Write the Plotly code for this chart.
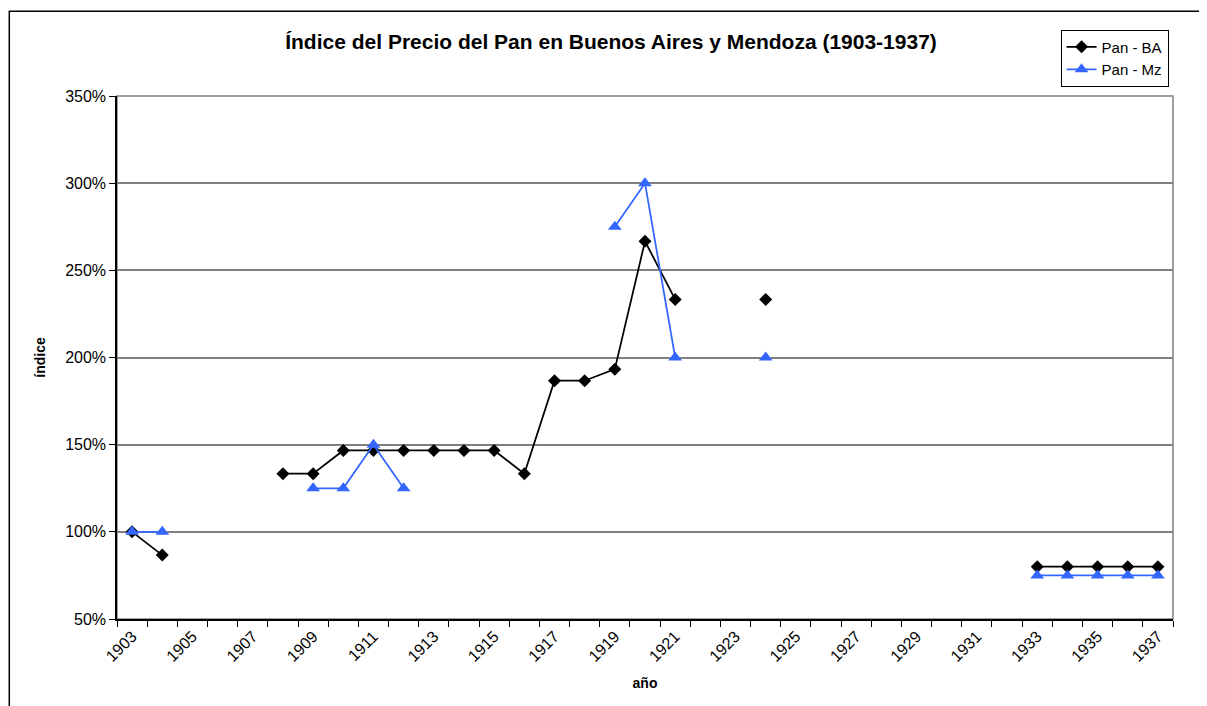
import plotly.graph_objects as go

# Data (index, %)
years = list(range(1903, 1938))

ba_years = [1903, 1904, 1908, 1909, 1910, 1911, 1912, 1913, 1914, 1915, 1916,
            1917, 1918, 1919, 1920, 1921, 1924, 1933, 1934, 1935, 1936, 1937]
ba_values = [100, 86.67, 133.33, 133.33, 146.67, 146.67, 146.67, 146.67, 146.67, 146.67, 133.33,
             186.67, 186.67, 193.33, 266.67, 233.33, 233.33, 80, 80, 80, 80, 80]

mz_years = [1903, 1904, 1909, 1910, 1911, 1912, 1919, 1920, 1921, 1924,
            1933, 1934, 1935, 1936, 1937]
mz_values = [100, 100, 125, 125, 150, 125, 275, 300, 200, 200, 75, 75, 75, 75, 75]

tick_years = [y for y in years if (y - 1903) % 2 == 0]
tick_labels = [str(y) for y in tick_years]
y_ticks = [50, 100, 150, 200, 250, 300, 350]
y_tick_labels = [f"{v}%" for v in y_ticks]


def full_series(yrs, vals):
    lookup = dict(zip(yrs, vals))
    return [lookup.get(y) for y in years]


FONT = "Liberation Sans, Arial, sans-serif"
BLUE = "#3366FF"

fig = go.Figure()

fig.add_trace(go.Scatter(
    x=years, y=full_series(ba_years, ba_values), name="Pan - BA",
    mode="lines+markers", connectgaps=False,
    line=dict(color="black", width=1.75),
    marker=dict(symbol="diamond", size=10, color="black"),
))
fig.add_trace(go.Scatter(
    x=years, y=full_series(mz_years, mz_values), name="Pan - Mz",
    mode="lines+markers", connectgaps=False,
    line=dict(color=BLUE, width=1.75),
    marker=dict(symbol="triangle-up", size=12, color=BLUE),
))

# plot area border (gray) and outer chart border (black)
fig.add_shape(type="rect", xref="paper", yref="paper", x0=0, y0=0, x1=1, y1=1,
              line=dict(color="#808080", width=1.5), layer="below")
fig.add_shape(type="rect", xref="paper", yref="paper", x0=-0.102, y0=-0.4, x1=1.2, y1=1.162,
              line=dict(color="black", width=1.5))

boundaries = [y - 0.5 for y in years] + [years[-1] + 0.5]

# the page adds an 8px body margin, so everything is offset by 8px
fig.update_layout(
    width=1207, height=706,
    paper_bgcolor="white", plot_bgcolor="white",
    margin=dict(l=109, r=42, t=88, b=95),
    font=dict(family=FONT, size=14, color="black"),
    title=dict(text="<b>Índice del Precio del Pan en Buenos Aires y Mendoza (1903-1937)</b>",
               x=0.4996, xanchor="center", y=1 - 34 / 706, yanchor="middle",
               font=dict(family=FONT, size=21, color="black")),
    legend=dict(x=0.8935, y=1.127, xanchor="left", yanchor="top",
                bordercolor="black", borderwidth=1, bgcolor="white",
                font=dict(family=FONT, size=15), tracegroupgap=0, itemwidth=30),
    xaxis=dict(
        range=[1902.5, 1937.5], tickmode="array", tickvals=tick_years, ticktext=tick_labels,
        tickangle=-45, ticks="", showgrid=False, zeroline=False,
        showline=True, linecolor="black", linewidth=1.5,
        tickfont=dict(size=16),
        minor=dict(tickmode="array", tickvals=boundaries, ticks="outside", ticklen=6,
                   tickcolor="black", tickwidth=1, showgrid=False),
        title=dict(text="<b>año</b>", font=dict(size=14), standoff=14),
    ),
    yaxis=dict(
        range=[50, 350], tickmode="array", tickvals=y_ticks, ticktext=y_tick_labels,
        ticks="outside", ticklen=6, tickcolor="black",
        showgrid=True, gridcolor="#808080", gridwidth=1.5, zeroline=False,
        showline=True, linecolor="black", linewidth=1.5,
        tickfont=dict(size=16),
        title=dict(text="<b>índice</b>", font=dict(size=14), standoff=16),
    ),
)

fig.write_html("out.html")
